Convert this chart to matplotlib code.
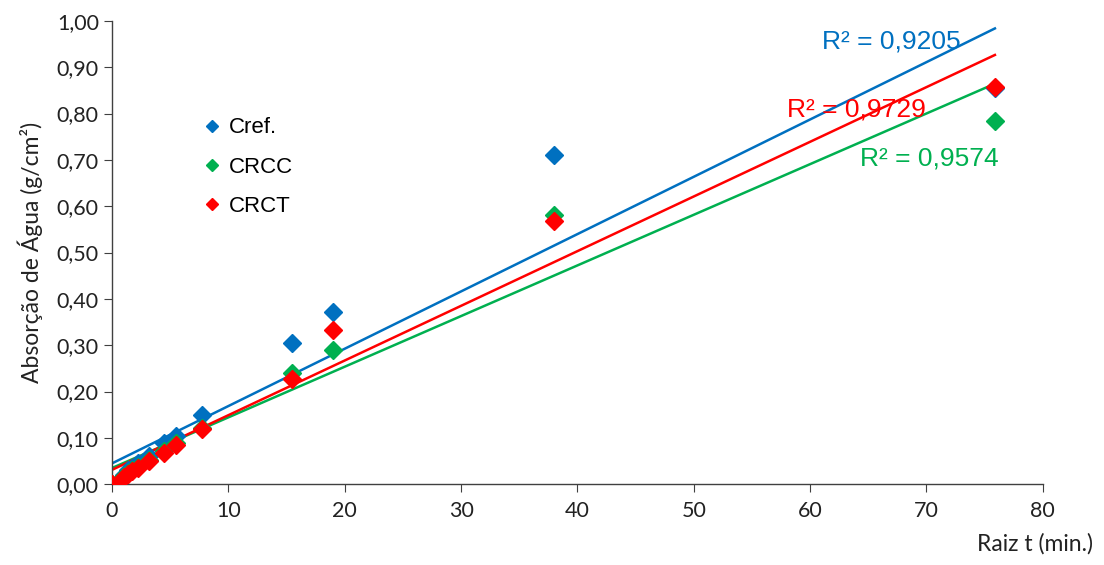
import numpy as np
import matplotlib.pyplot as plt
from matplotlib.ticker import FuncFormatter

# raiz do tempo (min)
raiz_t = [0, 1.0, 1.41, 1.73, 2.24, 3.16, 4.47, 5.48, 7.75, 15.49, 18.97, 37.95, 75.89]

cref = [0, 0.020, 0.030, 0.035, 0.045, 0.060, 0.090, 0.105, 0.150, 0.305, 0.371, 0.710, 0.855]
crcc = [0, 0.018, 0.025, 0.030, 0.038, 0.052, 0.072, 0.090, 0.122, 0.240, 0.290, 0.580, 0.785]
crct = [0, 0.015, 0.022, 0.028, 0.035, 0.050, 0.068, 0.085, 0.120, 0.228, 0.333, 0.568, 0.858]

# linhas de tendência (intercepto, inclinação) e R²
tend_cref = (0.045, 0.01237)
tend_crcc = (0.035, 0.01093)
tend_crct = (0.031, 0.01180)
r2_labels = ["R² = 0,9205", "R² = 0,9574", "R² = 0,9729"]

azul, verde, vermelho = "#0070C0", "#00B050", "#FF0000"

fig = plt.figure(figsize=(11.04, 5.65), dpi=100)
ax = fig.add_axes([0.1015, 0.143, 0.843, 0.82])

series = [
    ("Cref.", cref, tend_cref, azul),
    ("CRCC", crcc, tend_crcc, verde),
    ("CRCT", crct, tend_crct, vermelho),
]

xt = np.array([raiz_t[0], raiz_t[-1]])
for nome, ys, (b, a), cor in series:
    ax.plot(xt, b + a * xt, color=cor, lw=1.8, zorder=2)
for nome, ys, (b, a), cor in series:
    ax.plot(raiz_t, ys, ls="none", marker="D", ms=9.5, color=cor,
            label=nome, zorder=3)

fonte_r2 = dict(family="Liberation Sans", fontsize=19)
ax.text(61.0, 0.955, r2_labels[0], color=azul, va="center", **fonte_r2)
ax.text(58.0, 0.808, r2_labels[2], color=vermelho, va="center", **fonte_r2)
ax.text(64.3, 0.702, r2_labels[1], color=verde, va="center", **fonte_r2)

ax.set_xlim(0, 80)
ax.set_ylim(0, 1.0)
ax.set_xticks(np.arange(0, 81, 10))
ax.set_yticks(np.arange(0, 1.01, 0.1))
ax.yaxis.set_major_formatter(FuncFormatter(lambda v, p: f"{v:.2f}".replace(".", ",")))

for s in ["top", "right"]:
    ax.spines[s].set_visible(False)
for s in ["left", "bottom"]:
    ax.spines[s].set_color("#404040")
    ax.spines[s].set_linewidth(1.0)
ax.tick_params(direction="out", length=6, color="#404040", labelsize=15.5,
               labelcolor="#222222")
ax.tick_params(axis="x", pad=6)
for lab in ax.get_xticklabels() + ax.get_yticklabels():
    lab.set_family("Lato")

ax.set_ylabel("Absorção de Água (g/cm²)", family="Lato", fontsize=16.5,
              color="#222222", labelpad=10)
fig.text(0.990, 0.018, "Raiz t (min.)", family="Lato", fontsize=16.5,
         color="#222222", ha="right", va="bottom")

leg = ax.legend(loc="upper left", bbox_to_anchor=(0.072, 0.835), frameon=False,
                markerscale=0.6, handletextpad=0.15, labelspacing=0.82,
                handlelength=1.2,
                prop={"family": "Liberation Sans", "size": 16})

fig.savefig("out.png", dpi=100)
